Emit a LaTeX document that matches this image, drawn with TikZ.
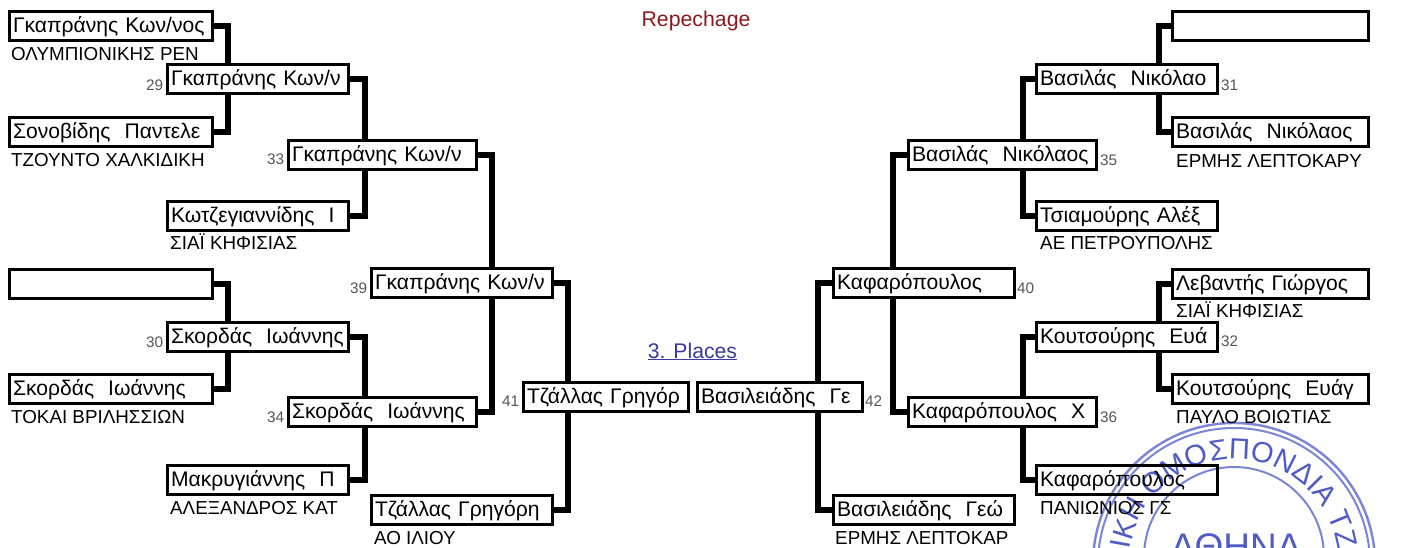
\documentclass[tikz,border=0pt]{standalone}
\usepackage{fontspec}
\setmainfont{Liberation Sans}
\usetikzlibrary{decorations.text}
\definecolor{stampblue}{RGB}{78,92,200}
\definecolor{numgrey}{RGB}{85,85,85}
\definecolor{repred}{RGB}{139,26,26}
\definecolor{placeblue}{RGB}{58,58,158}
\tikzset{
  player/.style={draw,anchor=north west,line width=3pt,inner xsep=3.5pt,inner ysep=0pt,align=left,
    text height=21pt,text depth=8pt,font=\fontsize{21.1}{24}\selectfont},
  boxa/.style={player,text width=196pt},
  boxb/.style={player,text width=173.5pt},
  boxc/.style={player,text width=181pt},
  boxd/.style={player,text width=158pt},
  boxe/.style={player,text width=189pt},
  club/.style={anchor=base west,inner sep=0pt,font=\fontsize{18.8}{21}\selectfont},
  seed/.style={anchor=base west,inner sep=0pt,text=numgrey,font=\fontsize{15.3}{17}\selectfont},
  link/.style={line width=6pt,line cap=butt,line join=miter},
  seal/.style={stampblue,line width=2.4pt,opacity=.75}
}
\begin{document}
\begin{tikzpicture}[x=1pt,y=-1pt]
  \useasboundingbox (0,0) rectangle (1423,547);
  % stamp
  \clip (0,0) rectangle (1423,547);
  \draw[seal] (1234,564) circle (141);
  \draw[seal,line width=2pt] (1234,564) circle (136);
  \draw[seal,line width=2pt] (1234,557) circle (90);
  \path[decorate,decoration={text along path,
      text={|\fontsize{29}{32}\selectfont\color{stampblue}|ΙΚΗ ΟΜΟΣΠΟΝΔΙΑ ΤΖ},text align=fit to path}]
    (1234,564) ++(-172:105) arc[start angle=-172,end angle=-8,radius=105];
  \node[anchor=base,inner sep=0pt,text=stampblue,font=\fontsize{37}{40}\selectfont] (city) at (1236,559) {ΑΘΗΝΑ};
  % left side
  \node[boxa] (gap) at (8,10) {Γκαπράνης Κων/νος};
  \node[boxa] (son) at (8,116) {Σονοβίδης\ \ Παντελε};
  \node[boxa] (blank) at (8,268) {};
  \node[boxa] (sko) at (8,373) {Σκορδάς\ \ Ιωάννης};
  \node[boxb] (m29) at (166,63) {Γκαπράνης Κων/ν};
  \node[boxb] (kot) at (166,200) {Κωτζεγιαννίδης\ \ Ι};
  \node[boxb] (m30) at (166,321) {Σκορδάς\ \ Ιωάννης};
  \node[boxb] (mak) at (166,464) {Μακρυγιάννης\ \ Π};
  \node[boxc] (m33) at (287,139) {Γκαπράνης Κων/ν};
  \node[boxc] (m34) at (287,396) {Σκορδάς\ \ Ιωάννης};
  \node[boxb] (m39) at (370,267) {Γκαπράνης Κων/ν};
  \node[boxb] (tza) at (370,494) {Τζάλλας Γρηγόρη};
  \node[boxd] (m41) at (522,381) {Τζάλλας Γρηγόρ};
  % right side
  \node[boxd] (m42) at (696,381) {Βασιλειάδης\ \ Γε};
  \node[boxb] (vas) at (832,494) {Βασιλειάδης\ \ Γεώ};
  \node[boxb] (m40) at (832,267) {Καφαρόπουλος};
  \node[boxc] (m35) at (907,139) {Βασιλάς\ \ Νικόλαος};
  \node[boxc] (m36) at (907,396) {Καφαρόπουλος\ \ Χ};
  \node[boxb] (m31) at (1035,63) {Βασιλάς\ \ Νικόλαο};
  \node[boxb] (tsi) at (1035,200) {Τσιαμούρης Αλέξ};
  \node[boxb] (m32) at (1035,321) {Κουτσούρης\ \ Ευά};
  \node[boxb] (kaf) at (1035,464) {Καφαρόπουλος};
  \node[boxe] (blankr) at (1171,10) {};
  \node[boxe] (nik) at (1171,116) {Βασιλάς\ \ Νικόλαος};
  \node[boxe] (lev) at (1171,268) {Λεβαντής Γιώργος};
  \node[boxe] (kou) at (1171,373) {Κουτσούρης\ \ Ευάγ};
  % clubs
  \node[club] (c1) at (11,60) {ΟΛΥΜΠΙΟΝΙΚΗΣ ΡΕΝ};
  \node[club] (c2) at (11,166) {ΤΖΟΥΝΤΟ ΧΑΛΚΙΔΙΚΗ};
  \node[club] (c3) at (170,249) {ΣΙΑΪ ΚΗΦΙΣΙΑΣ};
  \node[club] (c4) at (11,423) {ΤΟΚΑΙ ΒΡΙΛΗΣΣΙΩΝ};
  \node[club] (c5) at (170,514) {ΑΛΕΞΑΝΔΡΟΣ ΚΑΤ};
  \node[club] (c6) at (374,544) {ΑΟ ΙΛΙΟΥ};
  \node[club] (c7) at (835,544) {ΕΡΜΗΣ ΛΕΠΤΟΚΑΡ};
  \node[club] (c8) at (1176,167) {ΕΡΜΗΣ ΛΕΠΤΟΚΑΡΥ};
  \node[club] (c9) at (1040,249) {ΑΕ ΠΕΤΡΟΥΠΟΛΗΣ};
  \node[club] (c10) at (1176,317) {ΣΙΑΪ ΚΗΦΙΣΙΑΣ};
  \node[club] (c11) at (1176,423) {ΠΑΥΛΟ ΒΟΙΩΤΙΑΣ};
  \node[club] (c12) at (1040,514) {ΠΑΝΙΩΝΙΟΣ ΓΣ};
  % match numbers
  \node[seed] (n29) at (146,90) {29};
  \node[seed] (n33) at (267,164) {33};
  \node[seed] (n30) at (146,347) {30};
  \node[seed] (n34) at (267,422) {34};
  \node[seed] (n39) at (350,293) {39};
  \node[seed] (n41) at (502,406) {41};
  \node[seed] (n42) at (865,406) {42};
  \node[seed] (n40) at (1017,293) {40};
  \node[seed] (n36) at (1100,422) {36};
  \node[seed] (n35) at (1100,165) {35};
  \node[seed] (n31) at (1221,90) {31};
  \node[seed] (n32) at (1221,346) {32};
  % titles
  \node[anchor=base,inner sep=0pt,text=repred,font=\fontsize{21.3}{24}\selectfont] (rep) at (696,26) {Repechage};
  \node[anchor=base,inner sep=0pt,text=placeblue,font=\fontsize{21.2}{24}\selectfont] (pla) at (692.5,358) {\underline{3. Places}};
  % connectors
  \draw[link] (gap.east) -| ([xshift=-30]m29.north);
  \draw[link] (son.east) -| ([xshift=-30]m29.south);
  \draw[link] (m29.east) -| ([xshift=-18]m33.north);
  \draw[link] (kot.east) -| ([xshift=-18]m33.south);
  \draw[link] (blank.east) -| ([xshift=-30]m30.north);
  \draw[link] (sko.east) -| ([xshift=-30]m30.south);
  \draw[link] (m30.east) -| ([xshift=-18]m34.north);
  \draw[link] (mak.east) -| ([xshift=-18]m34.south);
  \draw[link] (m33.east) -| ([xshift=30]m39.north);
  \draw[link] (m34.east) -| ([xshift=30]m39.south);
  \draw[link] (m39.east) -| ([xshift=-38]m41.north);
  \draw[link] (tza.east) -| ([xshift=-38]m41.south);
  \draw[link] (m40.west) -| ([xshift=38]m42.north);
  \draw[link] (vas.west) -| ([xshift=38]m42.south);
  \draw[link] (m35.west) -| ([xshift=-31]m40.north);
  \draw[link] (m36.west) -| ([xshift=-31]m40.south);
  \draw[link] (m31.west) -| ([xshift=20]m35.north);
  \draw[link] (tsi.west) -| ([xshift=20]m35.south);
  \draw[link] (m32.west) -| ([xshift=20]m36.north);
  \draw[link] (kaf.west) -| ([xshift=20]m36.south);
  \draw[link] (blankr.west) -| ([xshift=32]m31.north);
  \draw[link] (nik.west) -| ([xshift=32]m31.south);
  \draw[link] (lev.west) -| ([xshift=32]m32.north);
  \draw[link] (kou.west) -| ([xshift=32]m32.south);
\end{tikzpicture}
\end{document}
